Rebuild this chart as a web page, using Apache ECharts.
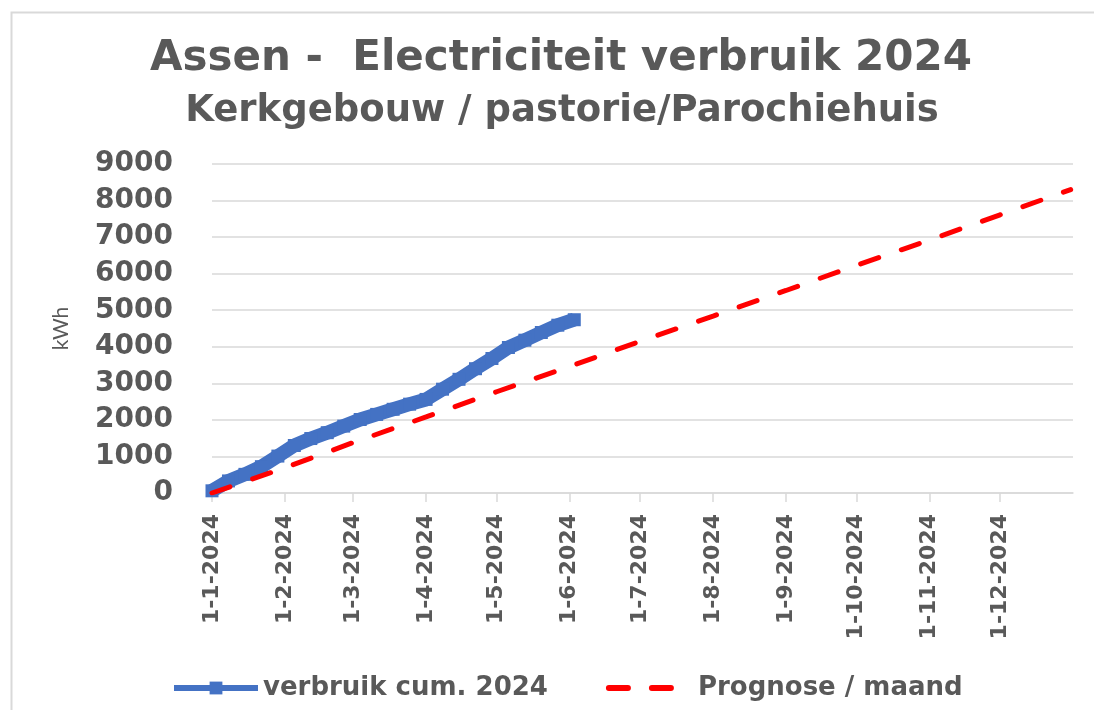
<!DOCTYPE html>
<html lang="nl">
<head>
    <meta charset="UTF-8">
    <title>Assen - Electriciteit verbruik 2024</title>
</head>
<script src="https://cdn.jsdelivr.net/npm/echarts@6/dist/echarts.min.js"></script>
<body style="margin: 0; background: #fff">
<div id="container" style="width:1094px;height:710px;"></div>

<script>
    var verbruikDatums = [
        "2024-01-01", "2024-01-08", "2024-01-15", "2024-01-22", "2024-01-29",
        "2024-02-05", "2024-02-12", "2024-02-19", "2024-02-26", "2024-03-04",
        "2024-03-11", "2024-03-18", "2024-03-25", "2024-04-01", "2024-04-08",
        "2024-04-15", "2024-04-22", "2024-04-29", "2024-05-06", "2024-05-13",
        "2024-05-20", "2024-05-27", "2024-06-03"
    ];
    var verbruikCum = [
        60, 330, 510, 720, 1010,
        1300, 1490, 1650, 1830, 2010,
        2150, 2290, 2430, 2560, 2840,
        3110, 3400, 3680, 3980, 4180,
        4390, 4590, 4740
    ];

    // prognose per maand
    var prognoseDatums = [
        "2024-01-01", "2024-02-01", "2024-03-01", "2024-04-01", "2024-05-01",
        "2024-06-01", "2024-07-01", "2024-08-01", "2024-09-01", "2024-10-01",
        "2024-11-01", "2024-12-01", "2024-12-31"
    ];
    var prognose = [0, 690, 1380, 2080, 2770, 3460, 4150, 4840, 5540, 6230, 6920, 7610, 8300];

    var titel = "Assen -  Electriciteit verbruik 2024";
    var ondertitel = "Kerkgebouw / pastorie/Parochiehuis";

    function paren(datums, waarden) {
        return datums.map(function (d, i) { return [d, waarden[i]]; });
    }

    var grijs = "#595959";
    var lijnGrijs = "#d9d9d9";
    var dag = 24 * 3600 * 1000;

    var myChart = echarts.init(document.getElementById("container"), null, { renderer: "canvas" });

    var option = {
        animation: false,
        graphic: [{
            type: "rect",
            left: 9, top: 10,
            shape: { width: 1200, height: 800 },
            style: { fill: "none", stroke: lijnGrijs, lineWidth: 2 },
            silent: true
        }],
        title: [
            {
                text: titel, left: 556, top: 33, textAlign: "center",
                textStyle: { fontFamily: "DejaVu Sans", fontWeight: "bold", fontSize: 42, color: grijs }
            },
            {
                text: ondertitel, left: 557, top: 88, textAlign: "center",
                textStyle: { fontFamily: "DejaVu Sans", fontWeight: "bold", fontSize: 37, color: grijs }
            }
        ],
        grid: { left: 212, right: 21, top: 164, bottom: 217, containLabel: false },
        legend: {
            left: 166, top: 670,
            itemWidth: 84, itemHeight: 16, itemGap: 58,
            lineStyle: { width: 6 },
            textStyle: { fontFamily: "DejaVu Sans", fontWeight: "bold", fontSize: 26, color: grijs },
            data: [
                { name: "verbruik cum. 2024" },
                { name: "Prognose / maand", itemStyle: { opacity: 0 } }
            ]
        },
        xAxis: {
            type: "time",
            min: "2024-01-01",
            max: "2025-01-01",
            minInterval: 28 * dag,
            maxInterval: 31 * dag,
            axisLine: { lineStyle: { color: lijnGrijs, width: 1.5 } },
            axisTick: { show: true, length: 9, lineStyle: { color: lijnGrijs, width: 1.5 } },
            splitLine: { show: false },
            axisLabel: {
                rotate: 90,
                margin: 21,
                showMaxLabel: false,
                hideOverlap: false,
                fontFamily: "DejaVu Sans", fontWeight: "bold", fontSize: 22, color: grijs,
                formatter: function (v) {
                    var d = new Date(v);
                    return d.getDate() + "-" + (d.getMonth() + 1) + "-" + d.getFullYear();
                }
            }
        },
        yAxis: {
            type: "value",
            min: 0, max: 9000, interval: 1000,
            name: "kWh",
            nameLocation: "middle",
            nameGap: 140,
            nameTextStyle: { fontFamily: "Lato", fontSize: 21, color: grijs },
            axisLine: { show: false },
            axisTick: { show: false },
            splitLine: { lineStyle: { color: lijnGrijs, width: 1.5 } },
            axisLabel: {
                margin: 39,
                fontFamily: "DejaVu Sans", fontWeight: "bold", fontSize: 28, color: grijs,
                formatter: function (v) { return String(v); }
            }
        },
        series: [
            {
                name: "verbruik cum. 2024",
                type: "line",
                data: paren(verbruikDatums, verbruikCum),
                symbol: "rect",
                symbolSize: 13,
                showSymbol: true,
                color: "#4472c4",
                lineStyle: { width: 14, color: "#4472c4", join: "round" },
                z: 2
            },
            {
                name: "Prognose / maand",
                type: "line",
                data: paren(prognoseDatums, prognose),
                symbol: "none",
                color: "#ff0000",
                lineStyle: { width: 5, color: "#ff0000", type: [19, 24], cap: "round" },
                z: 3
            }
        ]
    };

    myChart.setOption(option);
</script>
</body>
</html>
